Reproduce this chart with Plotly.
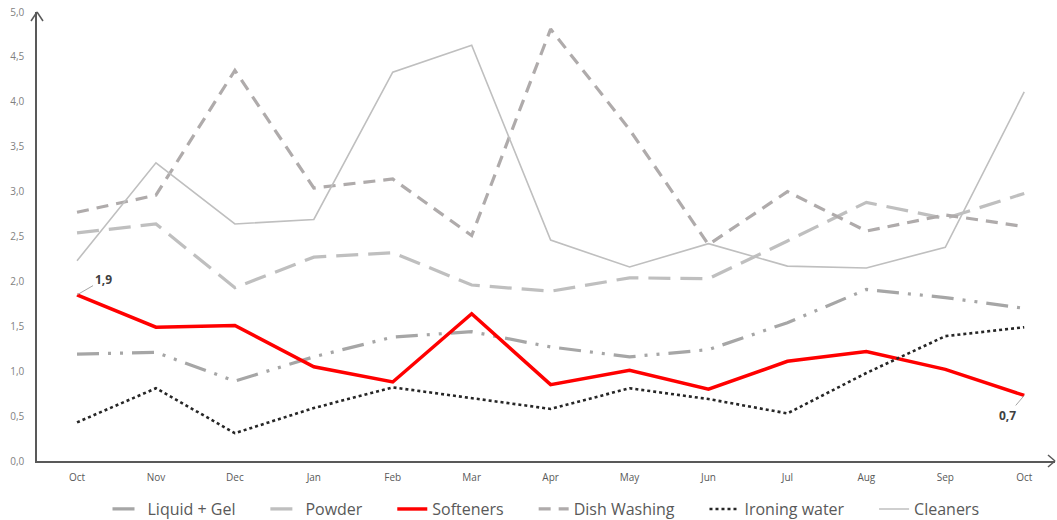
import plotly.graph_objects as go

months = ["Oct", "Nov", "Dec", "Jan", "Feb", "Mar", "Apr", "May", "Jun", "Jul", "Aug", "Sep", "Oct"]
liquid_gel = [1.19, 1.21, 0.89, 1.16, 1.38, 1.44, 1.27, 1.16, 1.24, 1.54, 1.91, 1.82, 1.70]
powder = [2.54, 2.64, 1.93, 2.27, 2.32, 1.96, 1.89, 2.04, 2.03, 2.45, 2.88, 2.70, 2.98]
softeners = [1.85, 1.49, 1.51, 1.05, 0.88, 1.64, 0.85, 1.01, 0.80, 1.11, 1.22, 1.02, 0.73]
dish_washing = [2.77, 2.96, 4.35, 3.04, 3.14, 2.51, 4.81, 3.69, 2.41, 3.00, 2.56, 2.74, 2.61]
ironing_water = [0.43, 0.81, 0.31, 0.59, 0.82, 0.70, 0.58, 0.81, 0.69, 0.53, 0.98, 1.39, 1.49]
cleaners = [2.23, 3.32, 2.64, 2.69, 4.33, 4.63, 2.46, 2.16, 2.42, 2.17, 2.15, 2.38, 4.11]

x = list(range(len(months)))
FONT = "Open Sans"
PAD = "\u00a0" * 6

fig = go.Figure()
fig.add_trace(go.Scatter(x=x, y=liquid_gel, name="Liquid + Gel" + PAD, mode="lines",
                         line=dict(color="#A6A6A6", width=3.2, dash="22px,9px,3px,9px,3px,9px")))
fig.add_trace(go.Scatter(x=x, y=powder, name="Powder" + PAD, mode="lines",
                         line=dict(color="#BFBFBF", width=3.2, dash="22px,10px")))
fig.add_trace(go.Scatter(x=x, y=softeners, name="Softeners" + PAD, mode="lines",
                         line=dict(color="#FF0000", width=3.5)))
fig.add_trace(go.Scatter(x=x, y=dish_washing, name="Dish Washing" + PAD, mode="lines",
                         line=dict(color="#AFABAB", width=3.2, dash="12px,8px")))
fig.add_trace(go.Scatter(x=x, y=ironing_water, name="Ironing water" + PAD, mode="lines",
                         line=dict(color="#262626", width=2.6, dash="dot")))
fig.add_trace(go.Scatter(x=x, y=cleaners, name="Cleaners", mode="lines",
                         line=dict(color="#BFBFBF", width=1.6)))

def fmt(v):
    return f"{v:.1f}".replace(".", ",")

fig.add_annotation(x=x[0], y=softeners[0], text="<b>" + fmt(softeners[0]) + "</b>",
                   showarrow=True, arrowhead=0, arrowwidth=1, arrowcolor="#A6A6A6",
                   ax=26, ay=-15, xanchor="center", yanchor="middle",
                   font=dict(family=FONT, size=12, color="#404040"))
fig.add_annotation(x=x[-1], y=softeners[-1], text="<b>" + fmt(softeners[-1]) + "</b>",
                   showarrow=True, arrowhead=0, arrowwidth=1, arrowcolor="#A6A6A6",
                   ax=-17, ay=20, xanchor="center", yanchor="middle",
                   font=dict(family=FONT, size=12, color="#404040"))

W, H = 1018, 449
ac = "#595959"
def seg(x0, y0, x1, y1):
    return dict(type="line", xref="paper", yref="paper", x0=x0, y0=y0, x1=x1, y1=y1,
                line=dict(color=ac, width=1.5))
shapes = [
    seg(0, 1, -6 / W, 1 - 9 / H), seg(0, 1, 6 / W, 1 - 9 / H),
    seg(1, 0, 1 - 7 / W, 6 / H), seg(1, 0, 1 - 7 / W, -6 / H),
]

fig.update_layout(
    width=1057, height=520,
    margin=dict(l=37, r=2, t=12, b=59, autoexpand=False),
    paper_bgcolor="white", plot_bgcolor="white",
    separators=",.",
    font=dict(family=FONT, color="#595959"),
    showlegend=True,
    legend=dict(orientation="h", x=0.5, xanchor="center", y=-0.107, yanchor="middle",
                font=dict(family=FONT, size=16, color="#595959"), itemwidth=30,
                traceorder="normal"),
    shapes=shapes,
    xaxis=dict(tickmode="array", tickvals=x, ticktext=months,
               range=[-0.507, 12.39], showgrid=False, zeroline=False,
               showline=True, linecolor=ac, linewidth=1.5, ticks="",
               ticklabelstandoff=6,
               tickfont=dict(family=FONT, size=10, color="#595959")),
    yaxis=dict(range=[0, 5], dtick=0.5, tickformat=".1f", showgrid=False, zeroline=False,
               showline=True, linecolor=ac, linewidth=1.5, ticks="",
               ticklabelstandoff=9,
               tickfont=dict(family=FONT, size=10, color="#7F7F7F")),
)

fig.write_html("out.html")
